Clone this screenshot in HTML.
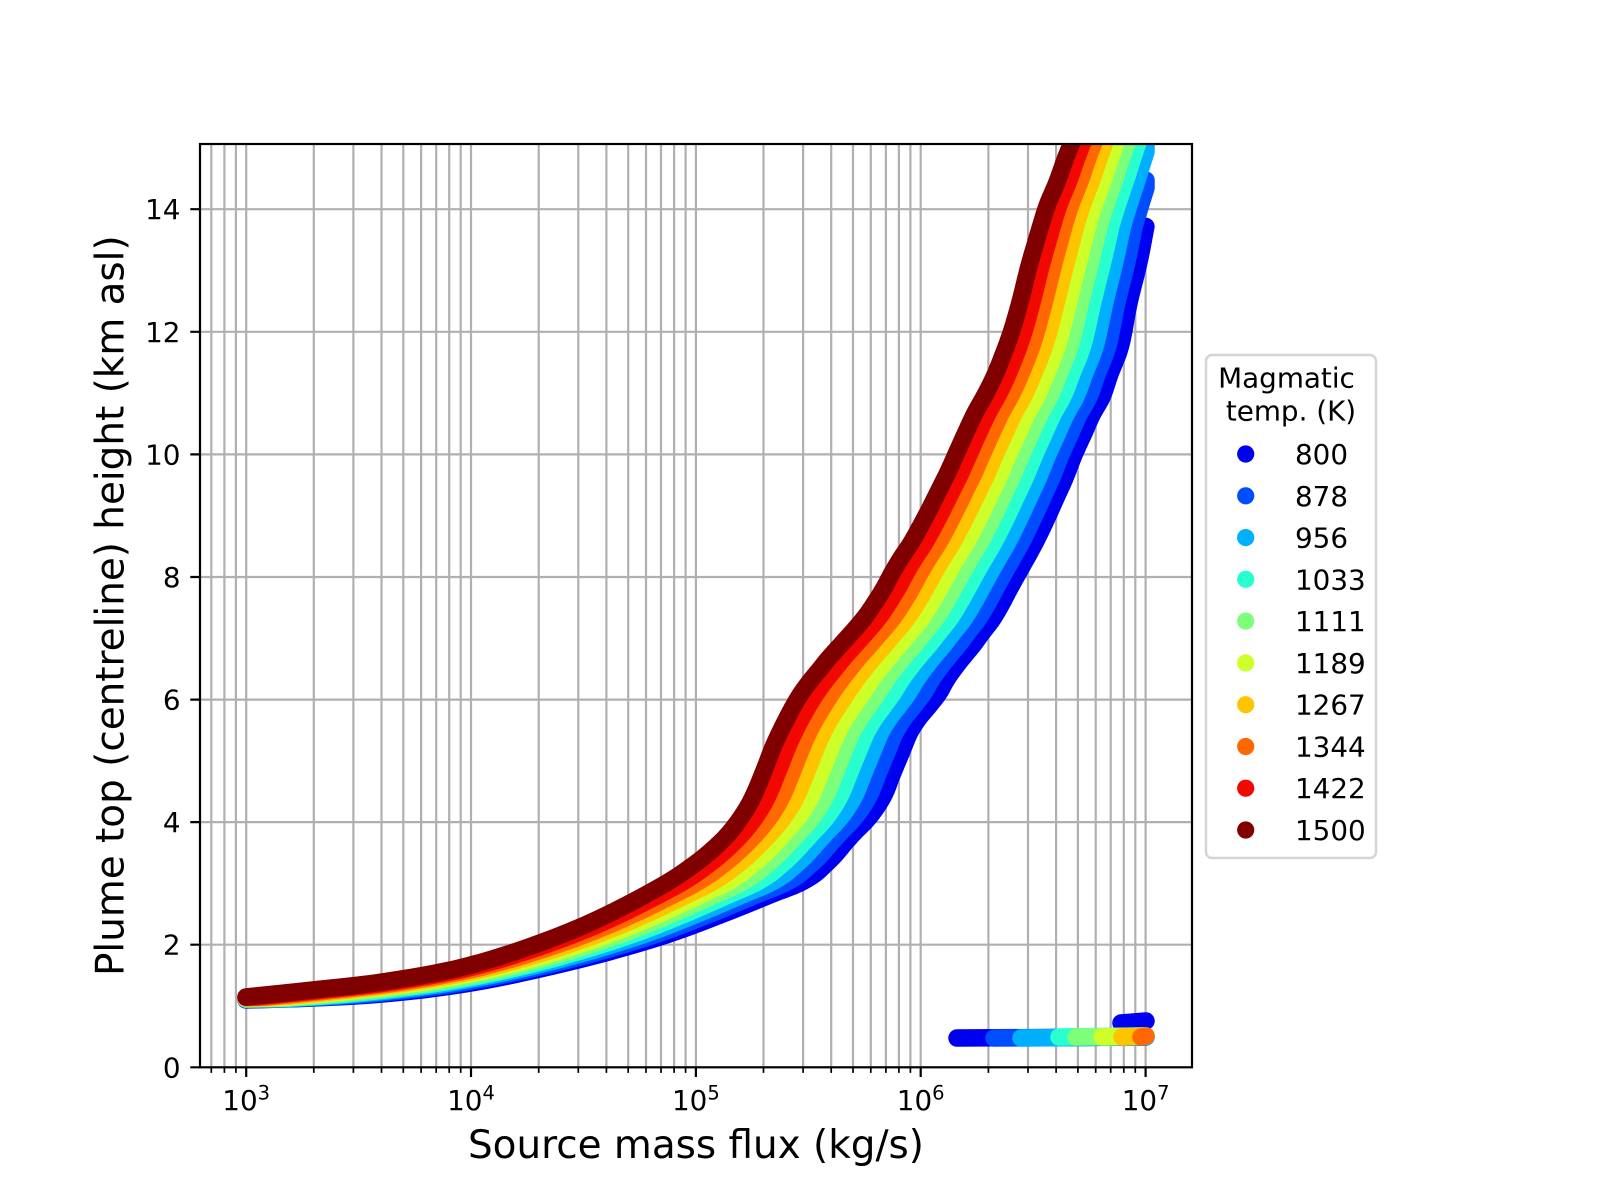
<!DOCTYPE html>
<html>
<head>
<meta charset="utf-8">
<style>
html,body{margin:0;padding:0;background:#fff;}
svg{display:block;}
text{font-family:"DejaVu Sans","Liberation Sans",sans-serif;fill:#000;}
</style>
</head>
<body>
<svg id="chart" width="1600" height="1200" viewBox="0 0 1600 1200">
<rect width="1600" height="1200" fill="#ffffff"/>
<defs><clipPath id="ax"><rect x="200" y="144" width="992" height="923.3"/></clipPath></defs>

<!-- grid -->
<path fill="none" stroke="#b0b0b0" stroke-width="2.2" d="
M211.3 144V1067.3M224.4 144V1067.3M235.9 144V1067.3M246.2 144V1067.3
M313.8 144V1067.3M353.4 144V1067.3M381.5 144V1067.3M403.3 144V1067.3M421.1 144V1067.3M436.2 144V1067.3M449.2 144V1067.3M460.7 144V1067.3M471 144V1067.3
M538.7 144V1067.3M578.3 144V1067.3M606.4 144V1067.3M628.2 144V1067.3M646 144V1067.3M661 144V1067.3M674.1 144V1067.3M685.6 144V1067.3M695.9 144V1067.3
M763.5 144V1067.3M803.1 144V1067.3M831.2 144V1067.3M853 144V1067.3M870.8 144V1067.3M885.9 144V1067.3M898.9 144V1067.3M910.4 144V1067.3M920.7 144V1067.3
M988.4 144V1067.3M1028 144V1067.3M1056.1 144V1067.3M1077.9 144V1067.3M1095.7 144V1067.3M1110.7 144V1067.3M1123.8 144V1067.3M1135.3 144V1067.3M1145.6 144V1067.3
M200 944.7H1192M200 822.1H1192M200 699.6H1192M200 577H1192M200 454.4H1192M200 331.8H1192M200 209.2H1192"/>

<g id="series" clip-path="url(#ax)"></g>

<!-- spines -->
<rect x="200" y="144" width="992" height="923.3" fill="none" stroke="#000" stroke-width="2.2"/>

<!-- ticks -->
<path fill="none" stroke="#000" stroke-width="2.2" d="
M246.2 1067.3v9.7M471 1067.3v9.7M695.9 1067.3v9.7M920.7 1067.3v9.7M1145.6 1067.3v9.7
M200 1067.3h-9.7M200 944.7h-9.7M200 822.1h-9.7M200 699.6h-9.7M200 577h-9.7M200 454.4h-9.7M200 331.8h-9.7M200 209.2h-9.7"/>
<path fill="none" stroke="#000" stroke-width="1.7" d="
M211.3 1067.3v5.6M224.4 1067.3v5.6M235.9 1067.3v5.6
M313.8 1067.3v5.6M353.4 1067.3v5.6M381.5 1067.3v5.6M403.3 1067.3v5.6M421.1 1067.3v5.6M436.2 1067.3v5.6M449.2 1067.3v5.6M460.7 1067.3v5.6
M538.7 1067.3v5.6M578.3 1067.3v5.6M606.4 1067.3v5.6M628.2 1067.3v5.6M646 1067.3v5.6M661 1067.3v5.6M674.1 1067.3v5.6M685.6 1067.3v5.6
M763.5 1067.3v5.6M803.1 1067.3v5.6M831.2 1067.3v5.6M853 1067.3v5.6M870.8 1067.3v5.6M885.9 1067.3v5.6M898.9 1067.3v5.6M910.4 1067.3v5.6
M988.4 1067.3v5.6M1028 1067.3v5.6M1056.1 1067.3v5.6M1077.9 1067.3v5.6M1095.7 1067.3v5.6M1110.7 1067.3v5.6M1123.8 1067.3v5.6M1135.3 1067.3v5.6"/>

<!-- y tick labels -->
<g font-size="27.8" text-anchor="end">
<text x="180.5" y="1077.3">0</text>
<text x="180.5" y="954.7">2</text>
<text x="180.5" y="832.1">4</text>
<text x="180.5" y="709.6">6</text>
<text x="180.5" y="587">8</text>
<text x="180.5" y="464.4">10</text>
<text x="180.5" y="341.8">12</text>
<text x="180.5" y="219.2">14</text>
</g>

<!-- x tick labels -->
<g font-size="27.8" text-anchor="middle">
<text x="246.2" y="1110">10<tspan dy="-10.7" font-size="19.5">3</tspan></text>
<text x="471" y="1110">10<tspan dy="-10.7" font-size="19.5">4</tspan></text>
<text x="695.9" y="1110">10<tspan dy="-10.7" font-size="19.5">5</tspan></text>
<text x="920.7" y="1110">10<tspan dy="-10.7" font-size="19.5">6</tspan></text>
<text x="1145.6" y="1110">10<tspan dy="-10.7" font-size="19.5">7</tspan></text>
</g>

<!-- axis labels -->
<text x="696" y="1158" font-size="38.9" text-anchor="middle">Source mass flux (kg/s)</text>
<text x="0" y="0" font-size="38.9" text-anchor="middle" transform="translate(123.5,605.7) rotate(-90)">Plume top (centreline) height (km asl)</text>

<!-- legend -->
<rect x="1206" y="355" width="170" height="503" rx="6" ry="6" fill="#ffffff" stroke="#d5d5d5" stroke-width="2.5"/>
<g font-size="27.8">
<text x="1286.5" y="387.3" text-anchor="middle">Magmatic</text>
<text x="1291" y="420.7" text-anchor="middle">temp. (K)</text>
</g>
<g id="legend" font-size="27.8">
<circle cx="1245.7" cy="454" r="8.6" fill="#0000f1"/><text x="1295" y="464">800</text>
<circle cx="1245.7" cy="495.8" r="8.6" fill="#004cff"/><text x="1295" y="505.8">878</text>
<circle cx="1245.7" cy="537.6" r="8.6" fill="#00b0ff"/><text x="1295" y="547.6">956</text>
<circle cx="1245.7" cy="579.3" r="8.6" fill="#29ffce"/><text x="1295" y="589.3">1033</text>
<circle cx="1245.7" cy="621.1" r="8.6" fill="#7dff7a"/><text x="1295" y="631.1">1111</text>
<circle cx="1245.7" cy="662.9" r="8.6" fill="#ceff29"/><text x="1295" y="672.9">1189</text>
<circle cx="1245.7" cy="704.7" r="8.6" fill="#ffc400"/><text x="1295" y="714.7">1267</text>
<circle cx="1245.7" cy="746.5" r="8.6" fill="#ff6800"/><text x="1295" y="756.5">1344</text>
<circle cx="1245.7" cy="788.2" r="8.6" fill="#f10800"/><text x="1295" y="798.2">1422</text>
<circle cx="1245.7" cy="830" r="8.6" fill="#800000"/><text x="1295" y="840">1500</text>
</g>
</svg>

<script>
(function(){
var svg=document.getElementById('chart');
var NS=svg.namespaceURI;
var g=document.getElementById('series');
var P15=[[246,997],[313,990],[382,982],[471,965],[578,928],[663,885],[692,866],[712,850],[730,832],[747,808],[756,790],[765,768],[774,745],[785,722],[794,705],[802,692],[811,680],[820,669],[828,659],[837,649],[846,639],[855,629],[865,617],[874,604],[884,588],[892,573],[901,558],[911,543],[920,527],[929,510],[938,492],[948,472],[957,452],[966,432],[975,413],[985,395],[994,377],[1003,355],[1011,333],[1020,302],[1029,266],[1038,235],[1047,206],[1057,182],[1066,157],[1075,135],[1090,100],[1100,80]];
var P8=[[246,1000],[313,998],[382,994],[471,983],[578,960],[663,936],[723,914],[770,895],[800,883],[815,874],[825,865],[835,855],[845,843],[855,832],[865,822],[874,811],[884,795],[892,775],[902,751],[910,732],[919,718],[929,706],[939,693],[947,679],[957,665],[965,655],[974,644],[982,633],[992,620],[1001,605],[1010,588],[1020,570],[1029,554],[1038,537],[1047,518],[1056,498],[1065,478],[1074,455],[1084,433],[1092,415],[1102,397],[1110,374],[1120,348],[1129,303],[1139,262],[1146,226]];
var cols=['#0000f1','#004cff','#00b0ff','#29ffce','#7dff7a','#ceff29','#ffc400','#ff6800','#f10800','#800000'];

function dist(a,b){var dx=a[0]-b[0],dy=a[1]-b[1];return Math.sqrt(dx*dx+dy*dy);}
function lerp(a,b,wa,wb){return [a[0]*wa+b[0]*wb,a[1]*wa+b[1]*wb];}
function smooth(P){
  var n=P.length,out=[P[0]];
  var ext=[[2*P[0][0]-P[1][0],2*P[0][1]-P[1][1]]].concat(P,[[2*P[n-1][0]-P[n-2][0],2*P[n-1][1]-P[n-2][1]]]);
  for(var i=1;i<ext.length-2;i++){
    var p0=ext[i-1],p1=ext[i],p2=ext[i+1],p3=ext[i+2];
    var t0=0,t1=t0+Math.pow(dist(p0,p1),0.5)+1e-6,t2=t1+Math.pow(dist(p1,p2),0.5)+1e-6,t3=t2+Math.pow(dist(p2,p3),0.5)+1e-6;
    var N=12;
    for(var s=1;s<=N;s++){
      var t=t1+(t2-t1)*s/N;
      var A1=lerp(p0,p1,(t1-t)/(t1-t0),(t-t0)/(t1-t0));
      var A2=lerp(p1,p2,(t2-t)/(t2-t1),(t-t1)/(t2-t1));
      var A3=lerp(p2,p3,(t3-t)/(t3-t2),(t-t2)/(t3-t2));
      var B1=lerp(A1,A2,(t2-t)/(t2-t0),(t-t0)/(t2-t0));
      var B2=lerp(A2,A3,(t3-t)/(t3-t1),(t-t1)/(t3-t1));
      var C=lerp(B1,B2,(t2-t)/(t2-t1),(t-t1)/(t2-t1));
      out.push(C);
    }
  }
  return out;
}
var S15=smooth(P15), S8=smooth(P8);

function inv(P,y){
  if(y>=P[0][1]) return P[0][0];
  for(var k=1;k<P.length;k++){
    if(y>=P[k][1]){var a=P[k-1],b=P[k];var dd=(b[1]-a[1]);if(Math.abs(dd)<1e-9)return b[0];var t=(y-a[1])/dd;return a[0]+t*(b[0]-a[0]);}
  }
  return P[P.length-1][0];
}
function x800(y){ if(y<226) return 1146+0.3*(226-y); return inv(S8,y); }
function addPath(d,col){
  var p=document.createElementNS(NS,'path');
  p.setAttribute('d',d);p.setAttribute('stroke',col);p.setAttribute('stroke-width','17.5');
  p.setAttribute('fill','none');p.setAttribute('stroke-linecap','round');p.setAttribute('stroke-linejoin','round');
  g.appendChild(p);
}
var coll=[[957,1038],[994,1038],[1021,1038],[1059,1037],[1076,1037],[1102,1037],[1122,1037],[1141,1037],null,null];
for(var i=0;i<10;i++){
  var f=i/9;
  var y0=1000-3*f;
  var yEnd=(i===0)?226:(i===1?180:120);
  var d='M246 '+y0.toFixed(1);
  for(var y=y0-0.5;y>=yEnd;y-=1){
    var x=(1-f)*x800(y)+f*inv(S15,y);
    if(x>1146)x=1146;
    d+=' L'+x.toFixed(1)+' '+y.toFixed(1);
  }
  addPath(d,cols[i]);
  if(i===0) addPath('M1121 1023 L1146 1021',cols[0]);
  if(coll[i]) addPath('M'+coll[i][0]+' '+coll[i][1]+' L1146 '+(coll[i][1]-1),cols[i]);
}
})();
</script>
</body>
</html>
